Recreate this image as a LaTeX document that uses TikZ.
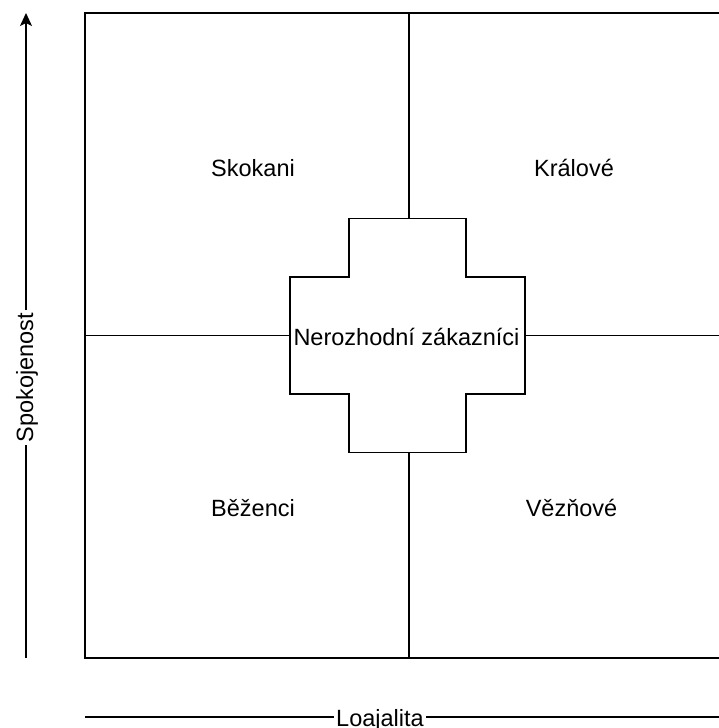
\documentclass[tikz,border=0pt]{standalone}
\usepackage{fontspec}
\setmainfont{Liberation Sans}
\usetikzlibrary{arrows.meta,positioning}

\begin{document}
\begin{tikzpicture}[x=1pt,y=-1pt,line width=1.3pt,
    every node/.style={font=\fontsize{23.5}{28}\selectfont,inner sep=0pt},
    axis/.style={-{Stealth[length=13pt,width=12pt,inset=3pt]}},
    axislabel/.style={fill=white,inner sep=2.5pt,anchor=base}]
        \useasboundingbox (0,0) rectangle (719,728);
        \clip (0,0) rectangle (719,728);
        % the four fields
        \node[draw,minimum width=648pt,minimum height=645pt] (grid) at (409,335.5) {};
        \draw (grid.north) -- (grid.south);
        \draw (grid.west) -- (grid.east);
        \node[anchor=base] (jumpers) at (253,176) {Skokani};
        \node[anchor=base] (kings) at (574,176) {Králové};
        \node[anchor=base] (runners) at (253,516) {Běženci};
        \node[anchor=base] (prisoners) at (571.5,516) {Vězňové};
        % cross in the middle
        \draw[fill=white,shift={(407.5,335.5)}] (-58.5,-117) -- (58.5,-117) -- (58.5,-58.5) -- (117.5,-58.5)
            -- (117.5,58.5) -- (58.5,58.5) -- (58.5,117) -- (-58.5,117) -- (-58.5,58.5) -- (-117.5,58.5)
            -- (-117.5,-58.5) -- (-58.5,-58.5) -- cycle;
        \node[anchor=base] (undecided) at (406.5,345) {Nerozhodní zákazníci};
        % axes
        \coordinate (yfoot) at (26,658);
        \coordinate (ytip) at (26,13);
        \coordinate (xfoot) at (85,717);
        \coordinate (xtip) at (733,717);
        \draw[axis] (yfoot) -- (ytip);
        \draw[axis] (xfoot) -- (xtip);
        \node[axislabel,rotate=90] (satisfaction) at (33,377.5) {Spokojenost};
        \node[axislabel] (loyalty) at (380,726) {Loajalita};
      \end{tikzpicture}
\end{document}
